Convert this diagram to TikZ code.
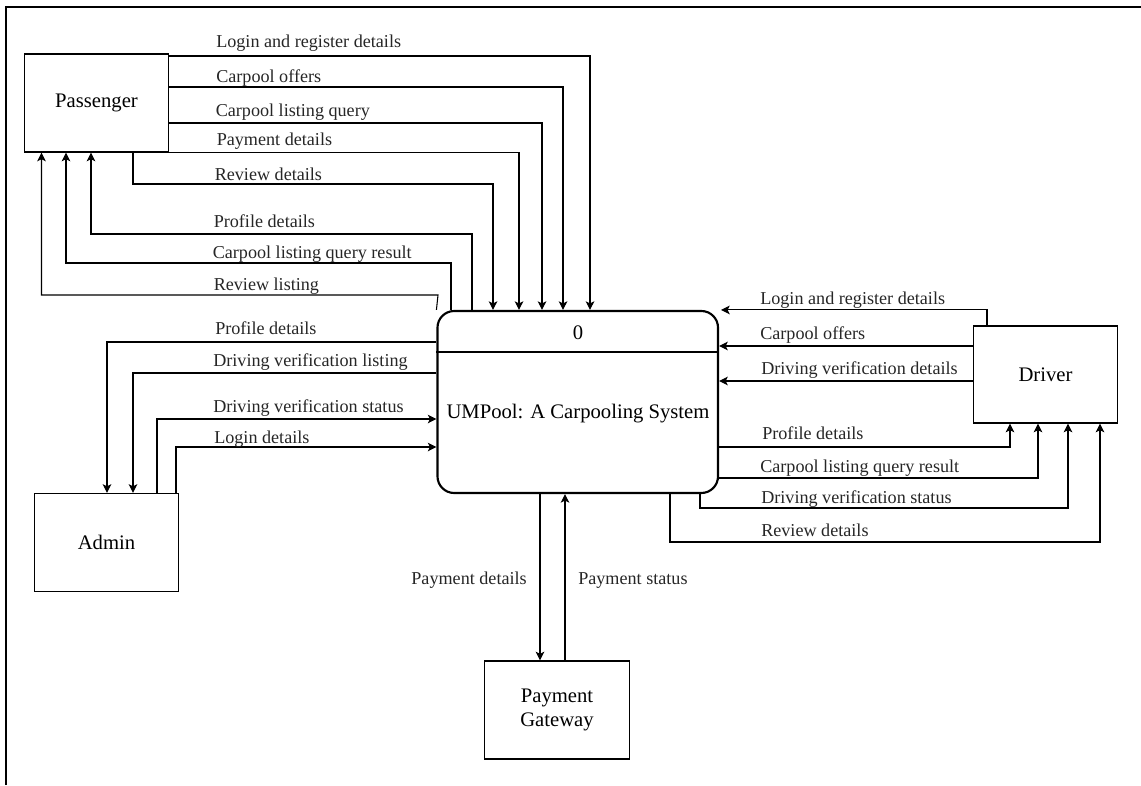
\documentclass[tikz,border=0pt]{standalone}
\usepackage{fontspec}
\setmainfont{Liberation Serif}
\usetikzlibrary{arrows.meta}
\newcommand\flowfont{\fontsize{13.6pt}{16pt}\selectfont}
\newcommand\boxfont{\fontsize{15.5pt}{18pt}\selectfont}
\begin{document}
\begin{tikzpicture}[x=0.75pt,y=-0.75pt,
  entity/.style={draw, line width=0.9pt, inner sep=0pt, font=\boxfont, align=center,
    minimum width=108.5pt, minimum height=73.5pt},
  flow/.style={line width=0.8pt, -{Stealth[length=6.5pt,width=6.5pt,inset=1.6pt]}},
  lbl/.style={anchor=base west, inner sep=0pt, font=\flowfont, text=black!85},
  lblr/.style={lbl, anchor=base east}]
\useasboundingbox (0,0) rectangle (1141,785);

% page frame (top and left edges)
\draw[line width=1.5pt] (6,785) -- (6,7) -- (1141,7);

% external entities
\node[entity] (pass) at (96.5,103) {Passenger};
\node[entity] (adm)  at (106.5,542.5) {Admin};
\node[entity, minimum height=72.75pt] (drv) at (1045.5,374.5) {Driver};
\node[entity] (pg)   at (557,710) {Payment\\Gateway};

% process
\node[draw, line width=1.6pt, rounded corners=12.5pt, inner sep=0pt,
      minimum width=210.4pt, minimum height=136.5pt] (proc) at (577.75,402) {};
\draw[line width=1.5pt] (proc.west |- 0,352) -- (proc.east |- 0,352);
\node[anchor=base, inner sep=0pt, font=\boxfont] (pnum) at (578,339) {0};
\node[anchor=base, inner sep=0pt, font=\boxfont] (ptitle) at (578,418) {UMPool: A Carpooling System};

% Passenger -> process
\draw[flow] (pass.east |- 0,56) -| (proc.north -| 590,0);
\draw[flow] (pass.east |- 0,87) -| (proc.north -| 563,0);
\draw[flow] (pass.east |- 0,123) -| (proc.north -| 542,0);
\draw[flow] (pass.south east) -| (proc.north -| 519,0);
\draw[flow] (pass.south -| 133,0) |- (493,184) -- (proc.north -| 493,0);
\node[lbl] (l1) at (216,47) {Login and register details};
\node[lbl] (l2) at (216,82) {Carpool offers};
\node[lbl] (l3) at (215.5,116) {Carpool listing query};
\node[lbl] (l4) at (216.5,145) {Payment details};
\node[lbl] (l5) at (214.5,180) {Review details};

% process -> Passenger
\draw[flow] (proc.north -| 472,0) -- (472,234) -| (pass.south -| 91,0);
\draw[flow] (proc.north -| 451,0) -- (451,263) -| (pass.south -| 66,0);
\draw[flow] (proc.north west) -- (438,295) -| (pass.south -| 41.5,0);
\node[lbl] (l6) at (213.5,227) {Profile details};
\node[lbl] (l7) at (212.5,258) {Carpool listing query result};
\node[lbl] (l8) at (213.5,290) {Review listing};

% process <-> Admin
\draw[flow] (proc.west |- 0,342) -| (adm.north -| 107,0);
\draw[flow] (proc.west |- 0,373) -| (adm.north -| 133,0);
\draw[flow] (adm.north -| 157,0) |- (proc.west |- 0,419);
\draw[flow] (adm.north -| 176,0) |- (proc.west |- 0,447);
\node[lbl] (a1) at (215,334) {Profile details};
\node[lbl] (a2) at (213,366) {Driving verification listing};
\node[lbl] (a3) at (213,412) {Driving verification status};
\node[lbl] (a4) at (214,443) {Login details};

% Driver <-> process
\draw[flow] (drv.north -| 987,0) |- ([xshift=1.5pt]proc.north east);
\draw[flow] (drv.west |- 0,346) -- (proc.east |- 0,346);
\draw[flow] (drv.west |- 0,381) -- (proc.east |- 0,381);
\draw[flow] (proc.east |- 0,447) -| (drv.south -| 1010,0);
\draw[flow] (proc.east |- 0,478) -| (drv.south -| 1038,0);
\draw[flow] (proc.south -| 700,0) -- (700,508) -| (drv.south -| 1068,0);
\draw[flow] (proc.south -| 670,0) -- (670,542) -| (drv.south -| 1100,0);
\node[lbl] (d1) at (760,304) {Login and register details};
\node[lbl] (d2) at (760,339) {Carpool offers};
\node[lbl] (d3) at (761,374) {Driving verification details};
\node[lbl] (d4) at (762,439) {Profile details};
\node[lbl] (d5) at (760,472) {Carpool listing query result};
\node[lbl] (d6) at (761,503) {Driving verification status};
\node[lbl] (d7) at (761,536) {Review details};

% process <-> Payment Gateway
\draw[flow] (proc.south -| 540,0) -- (pg.north -| 540,0);
\draw[flow] (pg.north -| 565,0) -- (proc.south -| 565,0);
\node[lblr] (p1) at (527,584) {Payment details};
\node[lbl] (p2) at (578,584) {Payment status};
\end{tikzpicture}
\end{document}
